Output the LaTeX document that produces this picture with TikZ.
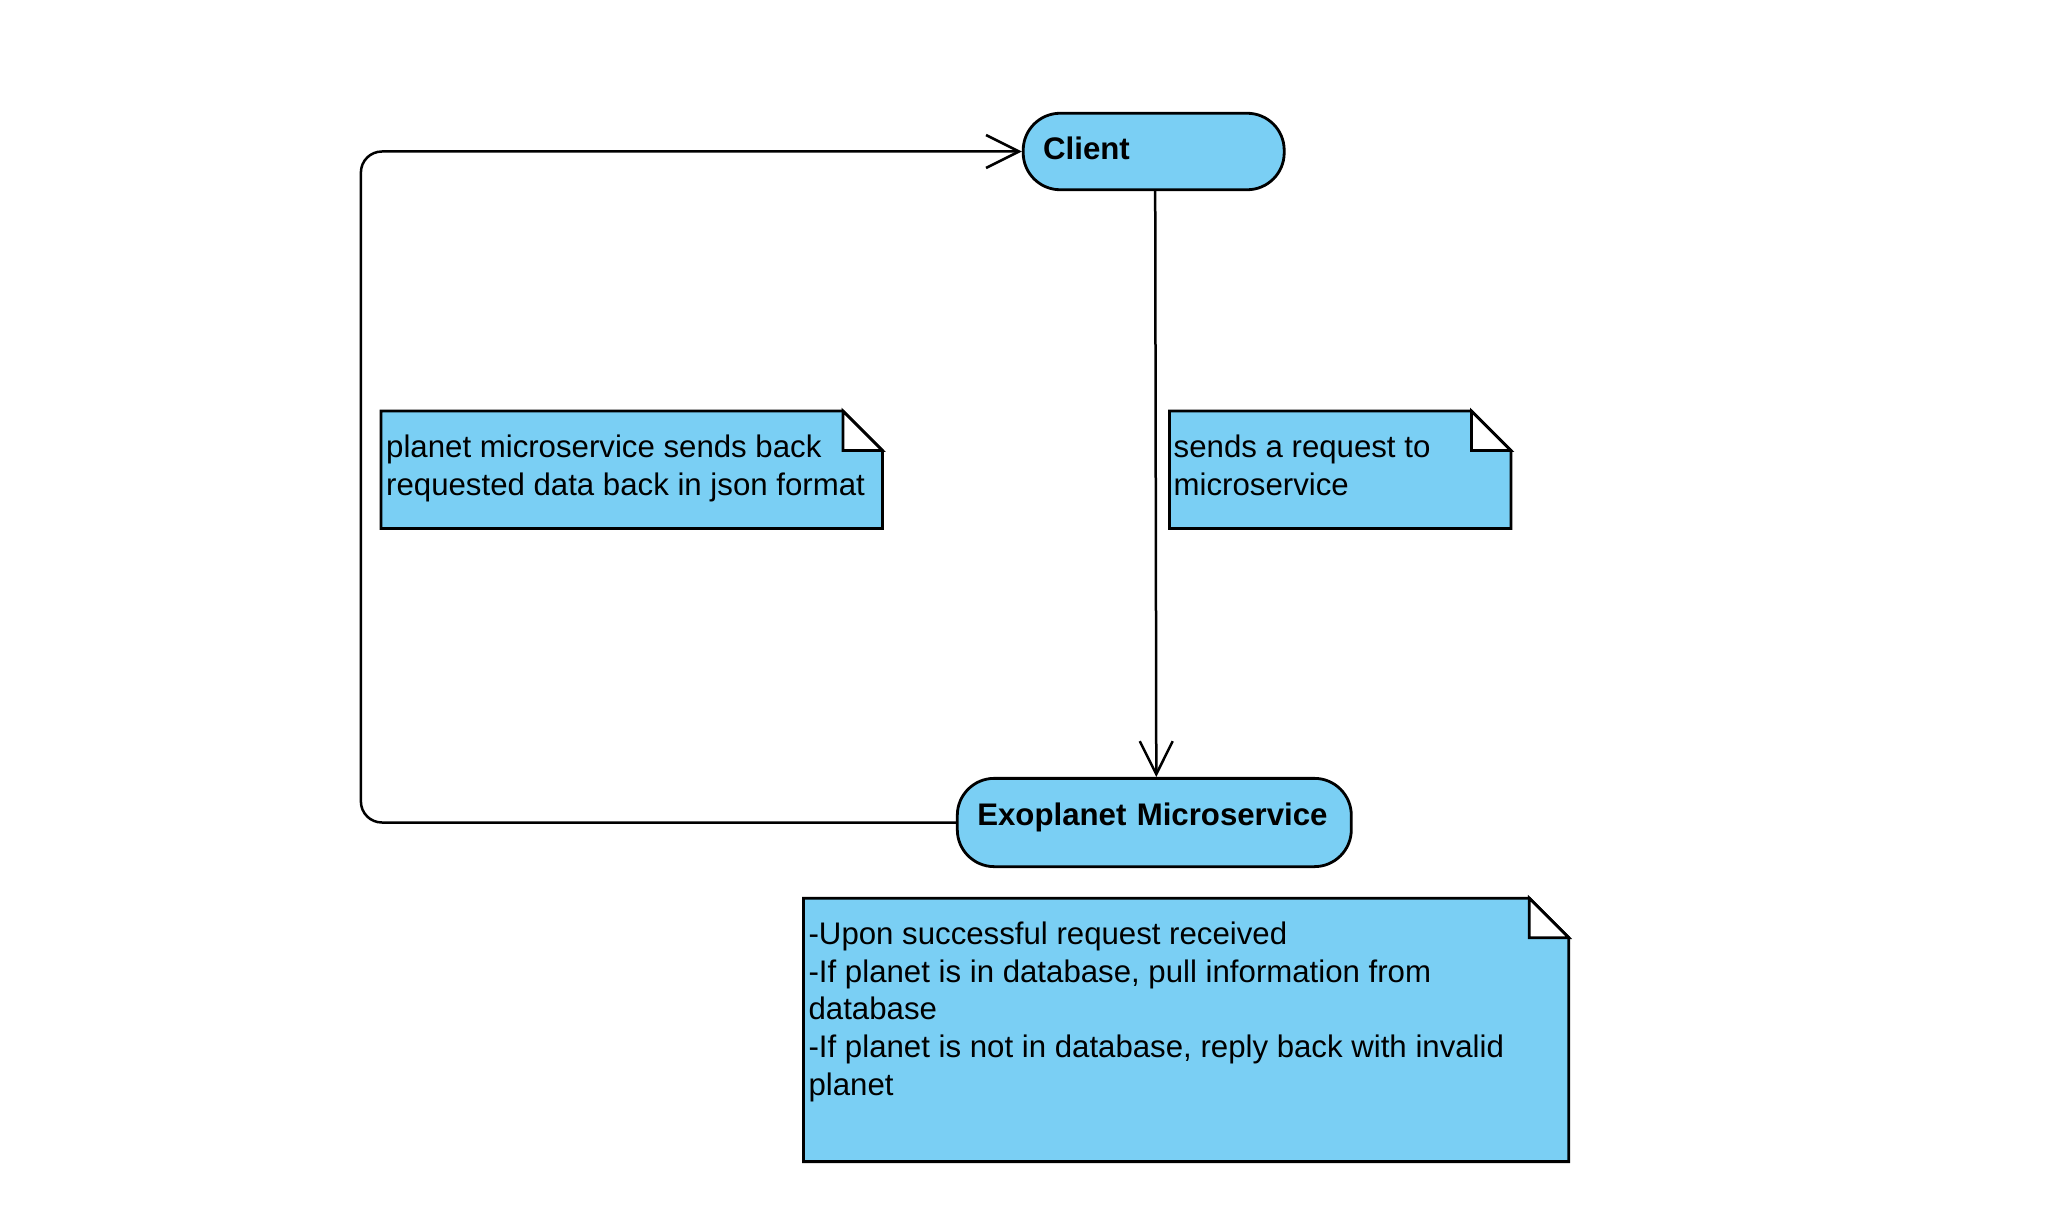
\documentclass[tikz,border=0pt]{standalone}
\usepackage{fontspec}
\setmainfont{Liberation Sans}
\usetikzlibrary{arrows.meta}

\definecolor{boxblue}{RGB}{122,207,244}

% outline of a note with a folded top-right corner, drawn around a frame node
\newcommand\drawnote[2]{%
  \filldraw[noteline, fill=boxblue]
    (#1.north west) -- ([xshift=-#2]#1.north east) -- ([yshift=-#2]#1.north east)
    -- (#1.south east) -- (#1.south west) -- cycle;
  \filldraw[noteline, fill=white]
    ([xshift=-#2]#1.north east) -- ([xshift=-#2,yshift=-#2]#1.north east)
    -- ([yshift=-#2]#1.north east) -- cycle;
}

\begin{document}
\begin{tikzpicture}[x=1pt, y=-1pt,
  every node/.style={font=\fontsize{31.2}{37.6}\selectfont},
  stadium/.style={draw, line width=2.8pt, fill=boxblue, rounded corners=37pt,
    inner xsep=20pt, inner ysep=0pt, align=left, font=\fontsize{31.2}{37.6}\selectfont\bfseries},
  noteframe/.style={inner sep=0pt, anchor=north west},
  noteline/.style={line width=2.8pt, line join=miter},
  notetext/.style={inner sep=0pt, anchor=north west, align=left},
  flow/.style={line width=2.5pt, -{Straight Barb[length=33pt, width=33pt, line width=2.5pt]}}
]
\useasboundingbox (0,0) rectangle (2065,1225);

% actors
\node[stadium, text width=221pt, minimum height=76.5pt, text height=22pt, text depth=5pt]
  (client) at (1153.7,151.5) {Client};
\node[stadium, text width=354pt, minimum height=88.3pt, text height=22pt, text depth=17pt]
  (exo) at (1154.3,822.5) {Exoplanet Microservice};

% notes
\node[noteframe, minimum width=501pt, minimum height=117pt] (n1) at (381,411) {};
\drawnote{n1}{39.5pt}
\node[notetext] (n1t) at ([xshift=5pt, yshift=-23.6pt]n1.north west)
  {planet microservice sends back\\requested data back in json format};

\node[noteframe, minimum width=341pt, minimum height=117pt] (n2) at (1169.5,411) {};
\drawnote{n2}{39.5pt}
\node[notetext] (n2t) at ([xshift=4pt, yshift=-23.6pt]n2.north west)
  {sends a request to\\microservice};

\node[noteframe, minimum width=765pt, minimum height=263pt] (n3) at (803.4,898.2) {};
\drawnote{n3}{39.5pt}
\node[notetext] (n3t) at ([xshift=5pt, yshift=-23.6pt]n3.north west)
  {-Upon successful request received\\
   -If planet is in database, pull information from\\
   database\\
   -If planet is not in database, reply back with invalid\\
   planet};

% connectors
\coordinate (loopx) at (360.9,500);
\draw[flow] ([xshift=1.5pt]client.south) -- ([xshift=2pt]exo.north);
\draw[flow, rounded corners=21pt]
  (exo.west) -- (exo.west -| loopx) -- (client.west -| loopx) -- (client.west);
\end{tikzpicture}
\end{document}
